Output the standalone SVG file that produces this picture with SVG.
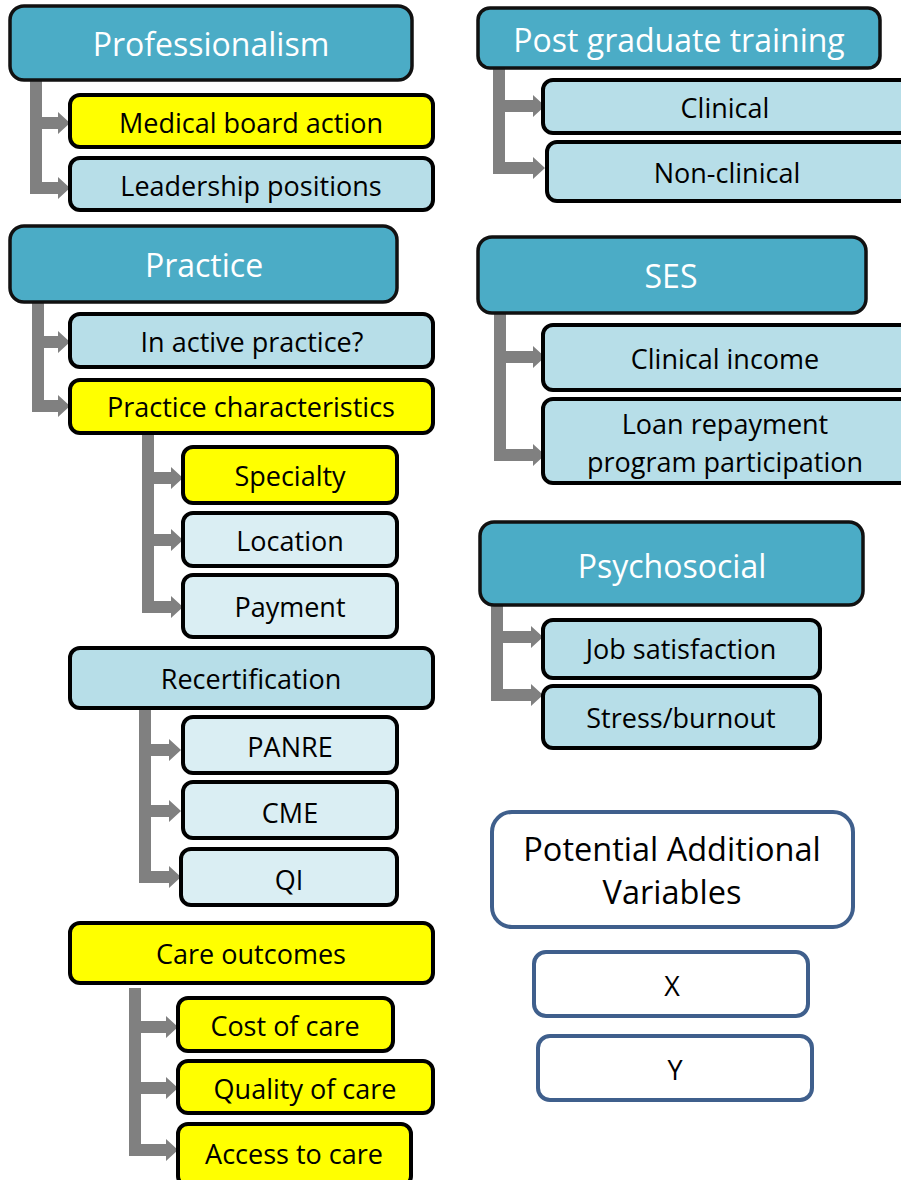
<svg xmlns="http://www.w3.org/2000/svg" width="901" height="1180" viewBox="0 0 901 1180">
<style>
text{font-family:"Open Sans","Liberation Sans",sans-serif;text-anchor:middle;dominant-baseline:central;fill:#000}
.hd rect{fill:#4BACC6;stroke:#111;stroke-width:3.5}
.hd text{fill:#fff;font-size:32px}
.lb rect{fill:#B7DEE8;stroke:#000;stroke-width:4}
.vl rect{fill:#DAEEF3;stroke:#000;stroke-width:4}
.yl rect{fill:#FFFF00;stroke:#000;stroke-width:4}
.lb text,.vl text,.yl text{font-size:27px}
.pv rect{fill:#fff;stroke:#3F5F8C;stroke-width:4}
.pv text{font-size:27px}
.pv text.big{font-size:32.5px}
#connectors{fill:#808080}
</style>
<g id="connectors">
<rect x="30" y="80" width="12" height="114"/>
<polygon points="42,117 58,117 58,112 70,123 58,134 58,129 42,129"/>
<polygon points="42,182 58,182 58,177 70,188 58,199 58,194 42,194"/>
<rect x="493" y="68" width="12" height="106"/>
<polygon points="505,100 533,100 533,95 545,106 533,117 533,112 505,112"/>
<polygon points="505,162 533,162 533,157 545,168 533,179 533,174 505,174"/>
<rect x="32" y="302" width="12" height="110"/>
<polygon points="44,336 58,336 58,331 70,342 58,353 58,348 44,348"/>
<polygon points="44,400 58,400 58,395 70,406 58,417 58,412 44,412"/>
<rect x="142" y="433" width="12" height="180"/>
<polygon points="154,472 171,472 171,467 183,478 171,489 171,484 154,484"/>
<polygon points="154,534 171,534 171,529 183,540 171,551 171,546 154,546"/>
<polygon points="154,601 171,601 171,596 183,607 171,618 171,613 154,613"/>
<rect x="494" y="313" width="12" height="148"/>
<polygon points="506,351 533,351 533,346 545,357 533,368 533,363 506,363"/>
<polygon points="506,449 533,449 533,444 545,455 533,466 533,461 506,461"/>
<rect x="491" y="605" width="12" height="96"/>
<polygon points="503,631 531,631 531,626 543,637 531,648 531,643 503,643"/>
<polygon points="503,689 531,689 531,684 543,695 531,706 531,701 503,701"/>
<rect x="139" y="708" width="12" height="175"/>
<polygon points="151,744 169,744 169,739 181,750 169,761 169,756 151,756"/>
<polygon points="151,805 169,805 169,800 181,811 169,822 169,817 151,817"/>
<polygon points="151,871 169,871 169,866 181,877 169,888 169,883 151,883"/>
<rect x="129" y="988" width="12" height="168"/>
<polygon points="141,1021 166,1021 166,1016 178,1027 166,1038 166,1033 141,1033"/>
<polygon points="141,1082 166,1082 166,1077 178,1088 166,1099 166,1094 141,1094"/>
<polygon points="141,1144 166,1144 166,1139 178,1150 166,1161 166,1156 141,1156"/>
</g>
<g id="professionalism" class="hd"><rect x="10" y="6" width="402" height="74" rx="14"/><text x="211" y="43">Professionalism</text></g>
<g id="medical-board-action" class="yl"><rect x="70" y="95" width="363" height="52" rx="10"/><text x="251" y="122">Medical board action</text></g>
<g id="leadership-positions" class="lb"><rect x="70" y="158" width="363" height="52" rx="10"/><text x="251" y="185">Leadership positions</text></g>
<g id="practice" class="hd"><rect x="10" y="226" width="387" height="76" rx="14"/><text x="204" y="264">Practice</text></g>
<g id="in-active-practice" class="lb"><rect x="70" y="314" width="363" height="53" rx="10"/><text x="252" y="341">In active practice?</text></g>
<g id="practice-characteristics" class="yl"><rect x="70" y="380" width="363" height="53" rx="10"/><text x="251" y="406">Practice characteristics</text></g>
<g id="specialty" class="yl"><rect x="183" y="447" width="214" height="56" rx="10"/><text x="290" y="475">Specialty</text></g>
<g id="location" class="vl"><rect x="183" y="513" width="214" height="53" rx="10"/><text x="290" y="540">Location</text></g>
<g id="payment" class="vl"><rect x="183" y="575" width="214" height="62" rx="10"/><text x="290" y="606">Payment</text></g>
<g id="recertification" class="lb"><rect x="70" y="648" width="363" height="60" rx="10"/><text x="251" y="678">Recertification</text></g>
<g id="panre" class="vl"><rect x="183" y="717" width="214" height="56" rx="10"/><text x="290" y="746">PANRE</text></g>
<g id="cme" class="vl"><rect x="183" y="782" width="214" height="56" rx="10"/><text x="290" y="812">CME</text></g>
<g id="qi" class="vl"><rect x="181" y="849" width="216" height="56" rx="10"/><text x="289" y="879">QI</text></g>
<g id="care-outcomes" class="yl"><rect x="70" y="923" width="363" height="60" rx="10"/><text x="251" y="953">Care outcomes</text></g>
<g id="cost-of-care" class="yl"><rect x="178" y="998" width="215" height="53" rx="10"/><text x="285" y="1025">Cost of care</text></g>
<g id="quality-of-care" class="yl"><rect x="178" y="1061" width="255" height="52" rx="10"/><text x="305" y="1088">Quality of care</text></g>
<g id="access-to-care" class="yl"><rect x="178" y="1124" width="233" height="62" rx="10"/><text x="294" y="1153">Access to care</text></g>
<g id="post-graduate-training" class="hd"><rect x="478" y="8" width="402" height="60" rx="12"/><text x="679" y="39">Post graduate training</text></g>
<g id="clinical" class="lb"><rect x="543" y="80" width="370" height="53" rx="10"/><text x="725" y="107">Clinical</text></g>
<g id="non-clinical" class="lb"><rect x="547" y="142" width="366" height="59" rx="10"/><text x="727" y="172">Non-clinical</text></g>
<g id="ses" class="hd"><rect x="478" y="237" width="388" height="76" rx="14"/><text x="671" y="275">SES</text></g>
<g id="clinical-income" class="lb"><rect x="543" y="325" width="370" height="65" rx="10"/><text x="725" y="358">Clinical income</text></g>
<g id="loan-repayment" class="lb"><rect x="543" y="399" width="370" height="84" rx="10"/><text x="725" y="423">Loan repayment</text><text x="725" y="461">program participation</text></g>
<g id="psychosocial" class="hd"><rect x="480" y="522" width="383" height="83" rx="14"/><text x="672" y="565">Psychosocial</text></g>
<g id="job-satisfaction" class="lb"><rect x="543" y="620" width="277" height="58" rx="10"/><text x="681" y="648">Job satisfaction</text></g>
<g id="stress-burnout" class="lb"><rect x="543" y="686" width="277" height="62" rx="10"/><text x="681" y="717">Stress/burnout</text></g>
<g id="potential-additional-variables" class="pv"><rect x="492" y="812" width="361" height="115" rx="20"/><text class="big" x="672" y="848">Potential Additional</text><text class="big" x="672" y="891">Variables</text></g>
<g id="x" class="pv"><rect x="534" y="952" width="274" height="64" rx="12"/><text x="672" y="985">X</text></g>
<g id="y" class="pv"><rect x="538" y="1036" width="274" height="64" rx="12"/><text x="675" y="1069">Y</text></g>
</svg>
